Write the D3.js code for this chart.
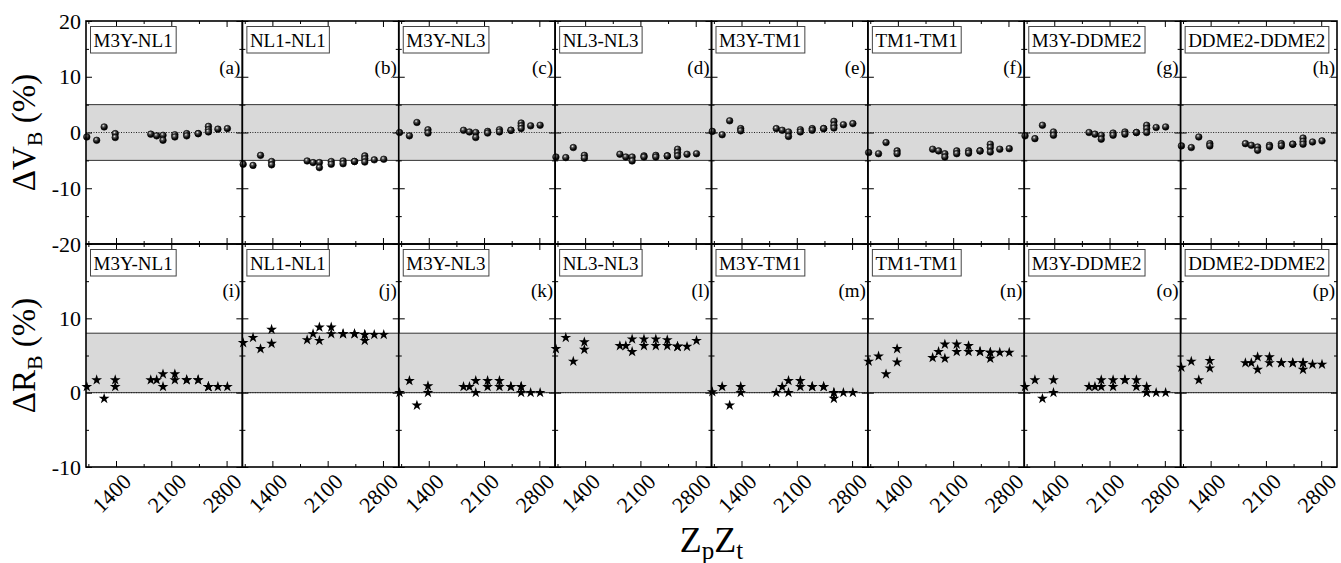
<!DOCTYPE html>
<html>
<head>
<meta charset="utf-8">
<script src="https://cdn.jsdelivr.net/npm/d3@7"></script>
<style>
  body { margin: 0; background: #fff; }
  svg { display: block; }
  svg text { font-family: "Liberation Serif", "DejaVu Serif", serif; }
</style>
</head>
<body>
<svg id="chart" width="1341" height="563"></svg>
<script>
// Z_p * Z_t of each system (repeated where several systems share one value)
var zpzt = [1030, 1155, 1250, 1390, 1390, 1840, 1915, 1995, 1995, 2145, 2145,
            2295, 2295, 2440, 2440, 2570, 2570, 2570, 2690, 2810];

var models = ["M3Y-NL1", "NL1-NL1", "M3Y-NL3", "NL3-NL3",
              "M3Y-TM1", "TM1-TM1", "M3Y-DDME2", "DDME2-DDME2"];
var lettersTop = ["a", "b", "c", "d", "e", "f", "g", "h"];
var lettersBot = ["i", "j", "k", "l", "m", "n", "o", "p"];

// Delta V_B (%)
var dV_a = [-0.8, -1.4, 1.0, -0.2, -0.9, -0.3, -0.6, -0.5, -1.4, -0.4, -0.8, -0.2, -0.6, -0.2, -0.2, 1.1, 0.5, 0.1, 0.6, 0.7];
var dV_b = [-5.7, -5.9, -4.1, -5.2, -5.8, -5.1, -5.4, -5.4, -6.3, -5.2, -5.7, -5.1, -5.6, -5.2, -5.2, -4.2, -4.7, -5.3, -4.9, -4.8];
var dV_c = [0.0, -0.6, 1.8, 0.5, -0.1, 0.4, 0.1, 0.0, -0.9, 0.2, -0.1, 0.5, 0.1, 0.4, 0.4, 1.7, 1.2, 0.7, 1.2, 1.3];
var dV_d = [-4.4, -4.5, -2.7, -4.1, -4.6, -3.9, -4.4, -4.4, -5.1, -4.2, -4.4, -4.1, -4.4, -4.2, -4.2, -3.0, -3.6, -4.2, -3.9, -3.8];
var dV_e = [0.2, -0.4, 2.1, 0.7, 0.3, 0.7, 0.4, 0.1, -0.7, 0.5, 0.1, 0.7, 0.4, 0.7, 0.7, 2.0, 1.3, 0.8, 1.4, 1.6];
var dV_f = [-3.6, -3.8, -1.8, -3.3, -3.8, -3.0, -3.3, -3.8, -4.4, -3.3, -3.8, -3.3, -3.7, -3.3, -3.3, -2.1, -2.7, -3.5, -3.0, -2.9];
var dV_g = [-0.6, -1.1, 1.3, 0.1, -0.5, 0.0, -0.3, -0.5, -1.2, -0.1, -0.5, 0.1, -0.3, 0.0, 0.0, 1.3, 0.7, 0.0, 0.9, 1.0];
var dV_h = [-2.4, -2.7, -0.8, -2.0, -2.4, -2.0, -2.3, -2.6, -3.2, -2.3, -2.6, -2.0, -2.4, -2.1, -2.1, -1.0, -1.6, -2.1, -1.7, -1.5];

// Delta R_B (%)
var dR_i = [0.8, 1.7, -0.8, 1.7, 0.8, 1.7, 1.7, 2.5, 0.8, 2.5, 1.7, 1.7, 1.7, 1.7, 1.7, 0.8, 0.8, 0.8, 0.8, 0.8];
var dR_j = [6.7, 7.4, 5.9, 8.5, 6.6, 7.1, 7.9, 8.8, 7.0, 8.8, 7.9, 7.9, 7.9, 7.9, 7.9, 7.8, 7.8, 7.0, 7.8, 7.8];
var dR_k = [0.0, 1.6, -1.7, 0.9, 0.0, 0.8, 0.8, 1.6, 0.0, 1.6, 0.8, 1.6, 0.8, 0.8, 0.8, 0.8, 0.8, 0.0, 0.0, 0.0];
var dR_l = [5.9, 7.4, 4.2, 6.8, 5.8, 6.3, 6.3, 7.2, 5.5, 7.2, 6.3, 7.2, 6.3, 7.1, 6.3, 6.2, 6.2, 6.2, 6.2, 7.0];
var dR_m = [0.1, 0.8, -1.7, 0.8, 0.0, 0.0, 0.8, 1.6, 0.0, 1.6, 0.8, 0.8, 0.8, 0.8, 0.8, 0.0, -0.8, 0.0, 0.0, 0.0];
var dR_n = [4.2, 4.9, 2.5, 5.9, 4.1, 4.7, 5.5, 6.5, 4.6, 6.5, 5.5, 6.3, 5.5, 5.5, 5.5, 5.4, 4.6, 5.4, 5.4, 5.4];
var dR_o = [0.8, 1.7, -0.8, 1.7, 0.0, 0.8, 0.8, 1.7, 0.8, 1.7, 0.8, 1.7, 1.7, 1.7, 0.8, 0.8, 0.0, 0.0, 0.0, 0.0];
var dR_p = [3.4, 4.2, 1.7, 4.3, 3.3, 4.0, 4.0, 4.8, 3.1, 4.8, 4.0, 4.0, 4.0, 4.0, 4.0, 4.0, 3.1, 4.0, 3.8, 3.8];

var dVseries = [dV_a, dV_b, dV_c, dV_d, dV_e, dV_f, dV_g, dV_h];
var dRseries = [dR_i, dR_j, dR_k, dR_l, dR_m, dR_n, dR_o, dR_p];

var xTicks = [1400, 2100, 2800];
var xMinor = [1050, 1750, 2450];

var rows = [
  { series: dVseries, letters: lettersTop, domain: [-20, 20], band: [-5, 5],
    major: [-20, -10, 0, 10, 20], minor: [-15, -5, 5, 15],
    labels: [-20, -10, 0, 10, 20], marker: "ball", title: "V" },
  { series: dRseries, letters: lettersBot, domain: [-10, 20], band: [0, 8],
    major: [-10, 0, 10, 20], minor: [-5, 5, 15],
    labels: [-10, 0, 10], marker: "star", title: "R" }
];

var FONT = "Liberation Serif, DejaVu Serif, serif";
var svg = d3.select("#chart");
var left = 86, right = 1337, panelW = (right - left) / 8;
var rowY = [21, 244], panelH = 223;

// shaded ball marker
var defs = svg.append("defs");
var grad = defs.append("radialGradient").attr("id", "ballGrad")
  .attr("cx", "0.38").attr("cy", "0.32").attr("r", "0.7");
grad.append("stop").attr("offset", "0%").attr("stop-color", "#eeeeee");
grad.append("stop").attr("offset", "30%").attr("stop-color", "#555");
grad.append("stop").attr("offset", "70%").attr("stop-color", "#0a0a0a");
grad.append("stop").attr("offset", "100%").attr("stop-color", "#000");

var x = d3.scaleLinear().domain([1020, 3000]).range([0, panelW]);
var star = d3.symbol().type(d3.symbolStar).size(36);

function styleAxis(g) {
  g.select(".domain").remove();
  g.selectAll(".tick line").attr("stroke", "#000").attr("stroke-width", 1);
  g.attr("font-family", FONT).attr("font-size", null);
}

rows.forEach(function (row, r) {
  var y = d3.scaleLinear().domain(row.domain).range([panelH, 0]);

  for (var c = 0; c < 8; c++) {
    var g = svg.append("g")
      .attr("transform", "translate(" + (left + c * panelW) + "," + rowY[r] + ")");

    // grey band
    g.append("rect")
      .attr("x", 0).attr("width", panelW)
      .attr("y", y(row.band[1])).attr("height", y(row.band[0]) - y(row.band[1]))
      .attr("fill", "#d9d9d9");
    row.band.forEach(function (b) {
      g.append("line").attr("x1", 0).attr("x2", panelW)
        .attr("y1", y(b)).attr("y2", y(b))
        .attr("stroke", "#333").attr("stroke-width", 1);
    });
    g.append("line").attr("x1", 0).attr("x2", panelW)
      .attr("y1", y(0)).attr("y2", y(0))
      .attr("stroke", "#222").attr("stroke-width", 1)
      .attr("stroke-dasharray", "1,1.5");

    // ticks on all four sides, pointing inward
    g.append("g").attr("transform", "translate(0," + panelH + ")")
      .call(d3.axisBottom(x).tickValues(xTicks).tickSize(-6).tickFormat("")).call(styleAxis);
    g.append("g").attr("transform", "translate(0," + panelH + ")")
      .call(d3.axisBottom(x).tickValues(xMinor).tickSize(-3).tickFormat("")).call(styleAxis);
    g.append("g")
      .call(d3.axisTop(x).tickValues(xTicks).tickSize(-6).tickFormat("")).call(styleAxis);
    g.append("g")
      .call(d3.axisTop(x).tickValues(xMinor).tickSize(-3).tickFormat("")).call(styleAxis);
    g.append("g")
      .call(d3.axisLeft(y).tickValues(row.major).tickSize(-6).tickFormat("")).call(styleAxis);
    g.append("g")
      .call(d3.axisLeft(y).tickValues(row.minor).tickSize(-3).tickFormat("")).call(styleAxis);
    g.append("g").attr("transform", "translate(" + panelW + ",0)")
      .call(d3.axisRight(y).tickValues(row.major).tickSize(-6).tickFormat("")).call(styleAxis);
    g.append("g").attr("transform", "translate(" + panelW + ",0)")
      .call(d3.axisRight(y).tickValues(row.minor).tickSize(-3).tickFormat("")).call(styleAxis);

    // data
    var pts = row.series[c].map(function (v, i) { return { z: zpzt[i], v: v }; });
    if (row.marker === "ball") {
      g.selectAll("circle.pt").data(pts).enter().append("circle")
        .attr("class", "pt")
        .attr("cx", function (d) { return x(d.z); })
        .attr("cy", function (d) { return y(d.v); })
        .attr("r", 3.3)
        .attr("fill", "url(#ballGrad)")
        .attr("stroke", "#000").attr("stroke-width", 0.6);
    } else {
      g.selectAll("path.pt").data(pts).enter().append("path")
        .attr("class", "pt")
        .attr("transform", function (d) { return "translate(" + x(d.z) + "," + y(d.v) + ")"; })
        .attr("d", star)
        .attr("fill", "#000");
    }

    // frame
    g.append("rect").attr("width", panelW).attr("height", panelH)
      .attr("fill", "none").attr("stroke", "#000").attr("stroke-width", 1.6);

    // model label in a box
    var box = g.append("rect")
      .attr("x", 4.5).attr("y", 5.5).attr("height", 26.5)
      .attr("fill", "#fff").attr("stroke", "#444").attr("stroke-width", 1);
    var lab = g.append("text").attr("x", 7.5).attr("y", 25.5)
      .attr("font-family", FONT).attr("font-size", 19).attr("fill", "#000")
      .text(models[c]);
    box.attr("width", lab.node().getComputedTextLength() + 6.5);

    g.append("text").attr("x", panelW - 2).attr("y", 53)
      .attr("text-anchor", "end").attr("font-family", FONT).attr("font-size", 19)
      .text("(" + row.letters[c] + ")");

    // tick labels
    if (c === 0) {
      g.append("g")
        .call(d3.axisLeft(y).tickValues(row.labels).tickSize(0).tickPadding(5)
          .tickFormat(function (d) { return String(d); }))
        .call(styleAxis)
        .selectAll("text").attr("font-size", 22).attr("fill", "#000");
    }
    if (r === 1) {
      g.append("g").attr("transform", "translate(0," + panelH + ")")
        .call(d3.axisBottom(x).tickValues(xTicks).tickSize(0)
          .tickFormat(function (d) { return String(d); }))
        .call(styleAxis)
        .selectAll("text")
        .attr("x", 0).attr("y", 0).attr("dy", 0)
        .attr("text-anchor", "end").attr("font-size", 22).attr("fill", "#000")
        .attr("transform", "translate(16,16) rotate(-45)");
    }
  }

  // row title
  var t = svg.append("text")
    .attr("transform", "translate(35," + (rowY[r] + panelH / 2) + ") rotate(-90)")
    .attr("text-anchor", "middle").attr("font-family", FONT).attr("font-size", 33);
  t.append("tspan").text("\u0394" + row.title);
  t.append("tspan").attr("font-size", 22).attr("dy", 7).text("B");
  t.append("tspan").attr("dy", -7).text(" (%)");
});

// x title
var xt = svg.append("text").attr("x", (left + right) / 2).attr("y", 552)
  .attr("text-anchor", "middle").attr("font-family", FONT).attr("font-size", 36);
xt.append("tspan").text("Z");
xt.append("tspan").attr("font-size", 25).attr("dy", 7).text("p");
xt.append("tspan").attr("dy", -7).text("Z");
xt.append("tspan").attr("font-size", 25).attr("dy", 7).text("t");
</script>
</body>
</html>
